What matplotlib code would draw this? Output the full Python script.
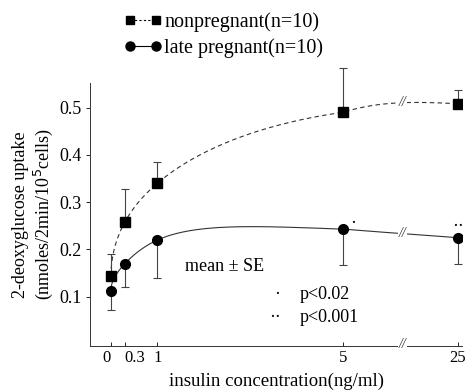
import numpy as np
import matplotlib
matplotlib.use("Agg")
import matplotlib.pyplot as plt
from matplotlib.lines import Line2D

plt.rcParams['font.family'] = ['Liberation Serif', 'DejaVu Serif']

# insulin concentration (ng/ml)
conc = [0, 0.3, 1, 5, 25]
tick_labels = ['0', '0.3', '1', '5', '25']

# 2-deoxyglucose uptake, mean and SE
nonpreg = [0.143, 0.258, 0.340, 0.490, 0.508]
nonpreg_se = [0.048, 0.070, 0.045, 0.093, 0.029]
latepreg = [0.113, 0.170, 0.220, 0.243, 0.225]
latepreg_se = [0.040, 0.050, 0.080, 0.075, 0.056]


def pos(c):
    # broken axis: linear up to 5, compressed between 5 and 25
    c = np.asarray(c, dtype=float)
    return np.where(c <= 5, c, 5 + (c - 5) * 2.46 / 20)


def curve_param(p):
    # parameter for the smooth drawn curve: sqrt-like below 5, linear after
    p = np.asarray(p, dtype=float)
    return np.where(p <= 5, np.sqrt(np.clip(p, 0, None)),
                    np.sqrt(5) + (p - 5) * 0.5)


def curve_pos(u):
    u = np.asarray(u, dtype=float)
    return np.where(u <= np.sqrt(5), u ** 2, 5 + (u - np.sqrt(5)) / 0.5)


def spline(x, y, n=300):
    # natural cubic spline through the points, only for the smooth drawn curve
    x = np.asarray(x, float)
    y = np.asarray(y, float)
    k = len(x)
    h = np.diff(x)
    A = np.zeros((k, k))
    b = np.zeros(k)
    A[0, 0] = A[-1, -1] = 1
    for i in range(1, k - 1):
        A[i, i - 1] = h[i - 1]
        A[i, i] = 2 * (h[i - 1] + h[i])
        A[i, i + 1] = h[i]
        b[i] = 3 * ((y[i + 1] - y[i]) / h[i] - (y[i] - y[i - 1]) / h[i - 1])
    c = np.linalg.solve(A, b)
    xs = np.linspace(x[0], x[-1], n)
    ys = np.empty_like(xs)
    for j, xv in enumerate(xs):
        i = min(np.searchsorted(x, xv, side='right') - 1, k - 2)
        bi = (y[i + 1] - y[i]) / h[i] - h[i] * (2 * c[i] + c[i + 1]) / 3
        di = (c[i + 1] - c[i]) / (3 * h[i])
        t = xv - x[i]
        ys[j] = y[i] + bi * t + c[i] * t ** 2 + di * t ** 3
    return xs, ys


fig = plt.figure(figsize=(4.71, 3.91), dpi=100)
ax = fig.add_axes([0.191, 0.115, 0.790, 0.673])

xp = pos(conc)
up = curve_param(xp)

us, ys = spline(up, nonpreg)
xs = curve_pos(us)
ax.plot(xs, ys, color='#333333', lw=0.8, ls=(0, (4, 3)))
us2, ys2 = spline(up, latepreg)
xs2 = curve_pos(us2)
ax.plot(xs2, ys2, color='#333333', lw=0.8, ls='-')

e1 = ax.errorbar(xp, nonpreg, yerr=[np.zeros(5), nonpreg_se], fmt='s', color='black',
                 ms=6.5, ecolor='#444444', elinewidth=0.8, capsize=3, capthick=0.8)
e2 = ax.errorbar(xp, latepreg, yerr=[latepreg_se, np.zeros(5)], fmt='o', color='black',
                 ms=7, ecolor='#444444', elinewidth=0.8, capsize=3, capthick=0.8)
for e in (e1, e2):
    for art in e.lines[1] + e.lines[2]:
        art.set_clip_on(False)

# break marks
brk = 6.27
for yb in [np.interp(brk, xs, ys), np.interp(brk, xs2, ys2), 0.0]:
    ax.text(brk, yb, '//', ha='center', va='center', fontsize=10, color='#333333',
            style='italic', clip_on=False,
            bbox=dict(boxstyle='square,pad=0.05', fc='white', ec='none'))

# significance marks
ax.annotate('·', (xp[3], latepreg[3]), xytext=(7, 1), textcoords='offset points',
            fontsize=13, ha='center', va='baseline')
ax.annotate('··', (xp[4], latepreg[4]), xytext=(0, 5), textcoords='offset points',
            fontsize=13, ha='center', va='baseline')

ax.text(1.6, 0.155, 'mean ± SE', fontsize=13)
ax.text(3.52, 0.095, '·', fontsize=13)
ax.text(4.05, 0.095, 'p<0.02', fontsize=13)
ax.text(3.4, 0.046, '··', fontsize=13)
ax.text(4.05, 0.046, 'p<0.001', fontsize=13)

ax.set_xlim(-0.45, 7.55)
ax.set_ylim(-0.004, 0.552)
ax.set_xticks(xp)
ax.set_xticklabels(tick_labels, fontsize=12)
ax.get_xticklabels()[0].set_horizontalalignment('right')
ax.get_xticklabels()[1].set_horizontalalignment('left')
ax.set_yticks([0.1, 0.2, 0.3, 0.4, 0.5])
ax.set_yticklabels(['0.1', '0.2', '0.3', '0.4', '0.5'], fontsize=13)
ax.tick_params(axis='x', direction='in', length=3, pad=3, width=0.6)
ax.tick_params(axis='y', direction='out', length=3, pad=3, width=0.6)
for side in ['top', 'right']:
    ax.spines[side].set_visible(False)
for side in ['left', 'bottom']:
    ax.spines[side].set_linewidth(0.7)
    ax.spines[side].set_color('#333333')

ax.set_xlabel('insulin concentration(ng/ml)', fontsize=13.5, labelpad=5)
ax.set_ylabel('2-deoxyglucose uptake\n(nmoles/2min/10$^5$cells)', fontsize=13,
              labelpad=3, linespacing=1.15)

handles = [
    Line2D([], [], color='black', marker='s', ms=5.5, lw=0.8, ls=(0, (2, 2))),
    Line2D([], [], color='black', marker='o', ms=6.5, lw=0.8, ls='-'),
]
fig.legend(handles, ['nonpregnant(n=10)', 'late pregnant(n=10)'],
           loc='upper left', bbox_to_anchor=(0.238, 1.0), frameon=False,
           fontsize=14.5, handlelength=1.9, handletextpad=0.1, labelspacing=0.3,
           numpoints=2, borderaxespad=0.2)

fig.savefig('out.png', dpi=100)
